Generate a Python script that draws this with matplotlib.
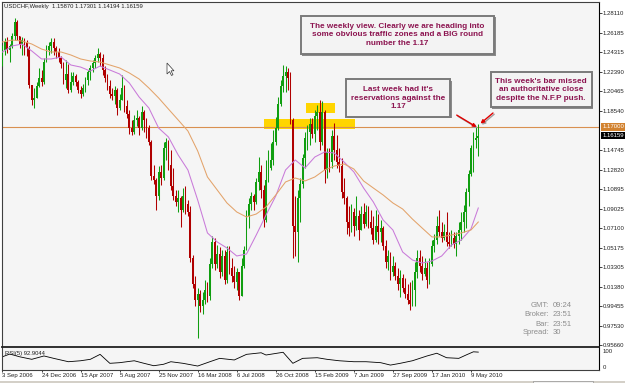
import matplotlib
matplotlib.use("Agg")
import matplotlib.pyplot as plt
from matplotlib import patches, transforms
import numpy as np

plt.rcParams['font.family'] = ['Liberation Sans', 'DejaVu Sans']

# ---------------- data (USDCHF weekly) ----------------
first_open = 1.2334
closes = [
    1.2452, 1.2530, 1.2452, 1.2491, 1.2588, 1.2725, 1.2588, 1.2510, 1.2549, 1.2530,
    1.2471, 1.2110, 1.1963, 1.1983, 1.2100, 1.2179, 1.2139, 1.2334, 1.2452, 1.2491,
    1.2530, 1.2471, 1.2432, 1.2373, 1.2315, 1.2159, 1.2217, 1.2061, 1.2139, 1.2198,
    1.2139, 1.2061, 1.2022, 1.2080, 1.2159, 1.2237, 1.2276, 1.2325, 1.2373, 1.2412,
    1.2373, 1.2256, 1.2179, 1.2100, 1.2022, 1.2002, 1.2061, 1.1885, 1.1963, 1.2080,
    1.1904, 1.1826, 1.1689, 1.1650, 1.1768, 1.1787, 1.1689, 1.1846, 1.1768, 1.1689,
    1.1553, 1.1221, 1.1181, 1.1025, 1.1260, 1.1201, 1.1494, 1.1553, 1.1328, 1.1123,
    1.1025, 1.0966, 1.1006, 1.0888, 1.1025, 1.0947, 1.0869, 1.0419, 1.0165, 1.0009,
    1.0068, 0.9950, 1.0009, 1.0107, 1.0048, 1.0361, 1.0576, 1.0361, 1.0458, 1.0283,
    1.0439, 1.0204, 1.0478, 1.0322, 1.0244, 1.0185, 1.0283, 1.0048, 1.0341, 1.0498,
    1.0830, 1.0947, 1.1025, 1.0966, 1.1162, 1.1260, 1.1084, 1.0791, 1.1181, 1.1299,
    1.1377, 1.1553, 1.1689, 1.1924, 1.2100, 1.2198, 1.2237, 1.2179, 1.1768, 1.0732,
    1.0673, 1.1006, 1.1142, 1.1396, 1.1592, 1.1650, 1.1729, 1.1631, 1.1807, 1.1846,
    1.1553, 1.1846, 1.1279, 1.1455, 1.1357, 1.1611, 1.1475, 1.1357, 1.1318, 1.1064,
    1.1006, 1.0771, 1.0712, 1.0869, 1.0732, 1.0830, 1.0693, 1.0849, 1.0752, 1.0869,
    1.0771, 1.0712, 1.0595, 1.0732, 1.0673, 1.0712, 1.0537, 1.0380, 1.0439, 1.0283,
    1.0341, 1.0244, 1.0165, 1.0224, 1.0126, 1.0068, 1.0009, 0.9970, 1.0107, 1.0283,
    1.0419, 1.0341, 1.0263, 1.0322, 1.0204, 1.0361, 1.0537, 1.0595, 1.0732, 1.0673,
    1.0615, 1.0673, 1.0576, 1.0556, 1.0615, 1.0556, 1.0634, 1.0693, 1.0771, 1.0869,
    1.1064, 1.1240, 1.1494, 1.1572, 1.1587, 1.16159]
highs = [
    1.2500, 1.2569, 1.2579, 1.2510, 1.2618, 1.2764, 1.2745, 1.2588, 1.2579, 1.2569,
    1.2549, 1.2490, 1.2110, 1.2080, 1.2139, 1.2276, 1.2256, 1.2373, 1.2500, 1.2530,
    1.2569, 1.2569, 1.2491, 1.2471, 1.2393, 1.2334, 1.2354, 1.2315, 1.2237, 1.2237,
    1.2217, 1.2159, 1.2100, 1.2119, 1.2188, 1.2256, 1.2305, 1.2354, 1.2403, 1.2471,
    1.2432, 1.2412, 1.2295, 1.2217, 1.2159, 1.2080, 1.2100, 1.2080, 1.2022, 1.2207,
    1.2110, 1.1963, 1.1865, 1.1768, 1.1816, 1.1865, 1.1807, 1.1904, 1.1865, 1.1787,
    1.1719, 1.1572, 1.1328, 1.1201, 1.1318, 1.1328, 1.1553, 1.1592, 1.1572, 1.1475,
    1.1299, 1.1084, 1.1084, 1.1025, 1.1103, 1.1123, 1.0986, 1.0927, 1.0449, 1.0244,
    1.0126, 1.0107, 1.0087, 1.0204, 1.0185, 1.0419, 1.0634, 1.0615, 1.0546, 1.0527,
    1.0498, 1.0498, 1.0537, 1.0537, 1.0419, 1.0341, 1.0322, 1.0283, 1.0419, 1.0537,
    1.0888, 1.1006, 1.1064, 1.1045, 1.1201, 1.1406, 1.1328, 1.1133, 1.1377, 1.1475,
    1.1543, 1.1670, 1.1797, 1.1992, 1.2159, 1.2305, 1.2295, 1.2276, 1.2237, 1.1787,
    1.1025, 1.1084, 1.1201, 1.1435, 1.1650, 1.1719, 1.1787, 1.1787, 1.1865, 1.1914,
    1.1963, 1.1953, 1.1865, 1.1494, 1.1494, 1.1670, 1.1738, 1.1621, 1.1494, 1.1396,
    1.1201, 1.1025, 1.0927, 1.0947, 1.0908, 1.1025, 1.0888, 1.0927, 1.0957, 1.0937,
    1.0927, 1.0888, 1.0830, 1.0888, 1.0849, 1.0791, 1.0732, 1.0595, 1.0498, 1.0478,
    1.0439, 1.0380, 1.0322, 1.0302, 1.0263, 1.0224, 1.0165, 1.0185, 1.0204, 1.0380,
    1.0498, 1.0498, 1.0439, 1.0419, 1.0380, 1.0419, 1.0595, 1.0654, 1.0830, 1.0888,
    1.0771, 1.0752, 1.0869, 1.0673, 1.0693, 1.0673, 1.0673, 1.0771, 1.0869, 1.0937,
    1.1103, 1.1279, 1.1523, 1.1650, 1.1699, 1.17301]
lows = [
    1.2295, 1.2403, 1.2422, 1.2334, 1.2471, 1.2549, 1.2549, 1.2471, 1.2403, 1.2403,
    1.2393, 1.2080, 1.1914, 1.1885, 1.1983, 1.2090, 1.2100, 1.2119, 1.2334, 1.2403,
    1.2422, 1.2403, 1.2373, 1.2334, 1.2276, 1.2119, 1.2080, 1.2031, 1.2041, 1.2110,
    1.2100, 1.2031, 1.1983, 1.2002, 1.2041, 1.2110, 1.2159, 1.2237, 1.2276, 1.2334,
    1.2295, 1.2207, 1.2139, 1.2061, 1.1983, 1.1963, 1.1924, 1.1816, 1.1865, 1.1963,
    1.1846, 1.1787, 1.1631, 1.1621, 1.1631, 1.1709, 1.1621, 1.1670, 1.1650, 1.1592,
    1.1523, 1.1181, 1.1142, 1.0888, 1.0986, 1.1133, 1.1181, 1.1377, 1.1279, 1.1084,
    1.0986, 1.0927, 1.0869, 1.0722, 1.0869, 1.0849, 1.0830, 1.0380, 1.0126, 0.9950,
    0.9638, 0.9892, 0.9872, 0.9970, 0.9990, 1.0009, 1.0322, 1.0302, 1.0322, 1.0224,
    1.0244, 1.0165, 1.0175, 1.0263, 1.0185, 1.0126, 1.0107, 1.0009, 1.0048, 1.0322,
    1.0498, 1.0712, 1.0888, 1.0888, 1.0947, 1.1084, 1.1006, 1.0722, 1.0771, 1.1162,
    1.1279, 1.1328, 1.1523, 1.1670, 1.1904, 1.2041, 1.2041, 1.2061, 1.1729, 1.0419,
    1.0439, 1.0380, 1.0771, 1.1103, 1.1299, 1.1475, 1.1523, 1.1592, 1.1553, 1.1670,
    1.1475, 1.1523, 1.1152, 1.1201, 1.1260, 1.1299, 1.1377, 1.1299, 1.1260, 1.1006,
    1.0947, 1.0654, 1.0634, 1.0673, 1.0634, 1.0693, 1.0595, 1.0693, 1.0712, 1.0732,
    1.0712, 1.0654, 1.0556, 1.0576, 1.0556, 1.0576, 1.0498, 1.0322, 1.0302, 1.0204,
    1.0244, 1.0204, 1.0107, 1.0038, 1.0087, 1.0029, 0.9970, 0.9911, 0.9950, 0.9950,
    1.0224, 1.0283, 1.0204, 1.0244, 1.0126, 1.0165, 1.0341, 1.0478, 1.0556, 1.0634,
    1.0576, 1.0595, 1.0537, 1.0517, 1.0537, 1.0517, 1.0439, 1.0556, 1.0595, 1.0673,
    1.0712, 1.0927, 1.1221, 1.1260, 1.1494, 1.14194]

# moving averages sampled every 4 weeks (+ last bar)
ma_weeks = list(range(0, 193, 4)) + [195]
ma_fast = [
    1.2432, 1.2491, 1.2510, 1.2442, 1.2364, 1.2364, 1.2383, 1.2305, 1.2285, 1.2246,
    1.2295, 1.2256, 1.2217, 1.2129, 1.1992, 1.1885, 1.1689, 1.1602, 1.1426, 1.1279,
    1.0986, 1.0664, 1.0576, 1.0517, 1.0439, 1.0458, 1.0644, 1.0839, 1.1025, 1.1279,
    1.1377, 1.1299, 1.1406, 1.1455, 1.1445, 1.1357, 1.1260, 1.1103, 1.0966, 1.0791,
    1.0693, 1.0478, 1.0400, 1.0370, 1.0390, 1.0439, 1.0546, 1.0595, 1.0703, 1.0908]
ma_slow = [
    1.2530, 1.2549, 1.2539, 1.2510, 1.2461, 1.2432, 1.2432, 1.2403, 1.2364, 1.2344,
    1.2334, 1.2305, 1.2276, 1.2227, 1.2168, 1.2080, 1.1983, 1.1875, 1.1768, 1.1660,
    1.1465, 1.1211, 1.1084, 1.0957, 1.0869, 1.0820, 1.0849, 1.0918, 1.1035, 1.1162,
    1.1201, 1.1172, 1.1211, 1.1279, 1.1318, 1.1338, 1.1289, 1.1172, 1.1103, 1.1035,
    1.0957, 1.0898, 1.0800, 1.0712, 1.0625, 1.0625, 1.0644, 1.0664, 1.0693, 1.0771]

rsi_weeks = [0, 3, 7, 12, 17, 21, 27, 32, 36, 40, 44, 48, 54, 58, 62, 66, 69, 74, 80, 85,
             89, 95, 100, 106, 108, 115, 119, 123, 129, 133, 138, 144, 149, 155, 159, 163,
             168, 174, 178, 182, 187, 190, 193, 195]
rsi_vals = [64, 81, 64, 48, 69, 54, 33, 39, 48, 79, 23, 27, 39, 23, 8, 17, 33, 23, 6, 33,
            54, 44, 79, 89, 75, 92, 23, 54, 58, 48, 39, 33, 33, 27, 12, 23,
            39, 69, 86, 58, 54, 75, 95, 93]

date_weeks = [0, 16, 32, 48, 64, 80, 96, 112, 128, 144, 160, 176, 192]
date_labels = ['3 Sep 2006', '24 Dec 2006', '15 Apr 2007', '5 Aug 2007', '25 Nov 2007',
               '16 Mar 2008', '6 Jul 2008', '26 Oct 2008', '15 Feb 2009', '7 Jun 2009',
               '27 Sep 2009', '17 Jan 2010', '9 May 2010']
price_ticks = [1.28110, 1.26185, 1.24315, 1.22390, 1.20465, 1.18540, 1.14745, 1.12820,
               1.10895, 1.09025, 1.07100, 1.05175, 1.03305, 1.01380, 0.99455, 0.97530, 0.95660]
price_labels = ['%.5f' % v for v in price_ticks]

level = 1.17000
last_close = 1.16159
zones = [((107.2, 144.5), (1.1680, 1.1777)), ((124.4, 136.3), (1.1836, 1.1934))]

# ---------------- figure ----------------
W, H = 625, 383
fig = plt.figure(figsize=(W / 100, H / 100), dpi=100)
fig.patch.set_facecolor('white')
PX = transforms.Affine2D().scale(1 / W, -1 / H).translate(0, 1) + fig.transFigure


def frac(x0, y0, x1, y1):
    return [x0 / W, 1 - y1 / H, (x1 - x0) / W, (y1 - y0) / H]


XMIN, XMAX = -0.2, 244.27
YMIN, YMAX = 0.95498, 1.29205
BG = '#F5F5F5'
GREEN, RED = '#109E10', '#B00000'

ax = fig.add_axes(frac(2, 2, 598.5, 347))
ax.set_facecolor(BG)
ax.set_xlim(XMIN, XMAX)
ax.set_ylim(YMIN, YMAX)

x = np.arange(len(closes))
c = np.array(closes)
o = np.concatenate([[first_open], c[:-1]])
hi = np.array(highs)
lo = np.array(lows)
up = c >= o
cols = np.where(up, GREEN, RED)

for (w0, w1), (p0, p1) in zones:
    ax.add_patch(patches.Rectangle((w0, p0), w1 - w0, p1 - p0, facecolor='#FFD500',
                                   edgecolor='none', zorder=1.5))
ax.axhline(level, color='#D99050', lw=0.8, zorder=2)

ax.vlines(x, lo, hi, colors=cols, linewidth=0.75, zorder=3)
ax.bar(x, np.maximum(np.abs(c - o), 0.0007), bottom=np.minimum(o, c), width=0.72,
       color=cols, linewidth=0, zorder=4)

ax.plot(ma_weeks, ma_fast, color='#C97AD9', lw=0.75, zorder=5)
ax.plot(ma_weeks, ma_slow, color='#E3A36A', lw=0.75, zorder=5)

ax.set_xticks([])
ax.yaxis.tick_right()
ax.set_yticks(price_ticks)
ax.set_yticklabels(price_labels)
ax.tick_params(axis='y', length=1.8, width=0.6, pad=1.0, labelsize=4.3, colors='#222222')
for s in ['left', 'top']:
    ax.spines[s].set_color('#404040')
    ax.spines[s].set_linewidth(0.8)
ax.spines['right'].set_color('black')
ax.spines['right'].set_linewidth(0.8)
ax.spines['bottom'].set_color('#202020')
ax.spines['bottom'].set_linewidth(1.3)

bt = transforms.blended_transform_factory(ax.transAxes, ax.transData)
ax.text(1.006, level, '1.17000', transform=bt, fontsize=4.3, color='white', va='center',
        ha='left', clip_on=False,
        bbox=dict(boxstyle='square,pad=0.22', fc='#D2822F', ec='none'))
ax.text(1.006, last_close, '%.5f' % last_close, transform=bt, fontsize=4.3, color='white',
        va='center', ha='left', clip_on=False,
        bbox=dict(boxstyle='square,pad=0.22', fc='black', ec='none'))

# arrows pointing at last bar
for dx, dy, hx, hy in [(-14.3, 8.6, 194.3, 1.1699), (9.0, 7.6, 195.9, 1.1733)]:
    ax.annotate('', xy=(hx + 0.5, hy - 0.0012), xytext=(dx, dy), textcoords='offset points',
                arrowprops=dict(arrowstyle='-|>', color='#A0A0A0', lw=1.0,
                                mutation_scale=5, shrinkA=0, shrinkB=0), zorder=6)
    ax.annotate('', xy=(hx, hy), xytext=(dx, dy), textcoords='offset points',
                arrowprops=dict(arrowstyle='-|>', color='#E00000', lw=1.0,
                                mutation_scale=5, shrinkA=0, shrinkB=0), zorder=7)

# ---------------- RSI panel ----------------
rax = fig.add_axes(frac(2, 348, 598.5, 370))
rax.set_facecolor(BG)
rax.set_xlim(XMIN, XMAX)
rax.set_ylim(-18.75, 118.75)
rax.plot(rsi_weeks, rsi_vals, color='black', lw=0.6)
rax.yaxis.tick_right()
rax.set_yticks([100, 0])
rax.set_yticklabels(['100', '0'])
rax.tick_params(axis='y', length=0, pad=3.0, labelsize=4.3, colors='#222222')
rax.set_xticks(date_weeks)
rax.set_xticklabels(date_labels)
for lbl in rax.get_xticklabels():
    lbl.set_ha('left')
rax.tick_params(axis='x', length=1.6, width=0.6, pad=0.3, labelsize=4.3, colors='#222222')
for s in ['left', 'bottom']:
    rax.spines[s].set_color('#404040')
    rax.spines[s].set_linewidth(0.8)
rax.spines['right'].set_color('black')
rax.spines['right'].set_linewidth(0.8)
rax.spines['top'].set_visible(False)

# ---------------- texts ----------------
fig.text(4, 6.3, 'USDCHF,Weekly  1.15870 1.17301 1.14194 1.16159', transform=PX,
         fontsize=4.2, color='#202020', va='center', ha='left')
fig.text(5, 353.5, 'RSI(5) 92.9044', transform=PX, fontsize=4.2, color='#202020',
         va='center', ha='left')

TXT = '#8C1450'


def note(x0, y0, x1, y1, text):
    fig.add_artist(patches.Rectangle((x0 + 1.5, y0 + 1.5), x1 - x0, y1 - y0, transform=PX,
                                     facecolor='#8A8A8A', edgecolor='none', zorder=8))
    fig.add_artist(patches.Rectangle((x0, y0), x1 - x0, y1 - y0, transform=PX,
                                     facecolor='#F3F3F3', edgecolor='#7A7A7A', lw=1.4,
                                     zorder=9))
    fig.text((x0 + x1) / 2, (y0 + y1) / 2, text, transform=PX, fontsize=5.9,
             fontweight='bold', color=TXT, ha='center', va='center', linespacing=1.25,
             zorder=10)


note(300.7, 15.7, 494, 54.3,
     'The weekly view. Clearly we are heading into\nsome obvious traffic zones and a BIG round\nnumber the 1.17')
note(346, 79.3, 450, 116.7, "Last week had it's\nreservations against the\n1.17")
note(490.7, 72.3, 591.7, 107.3,
     "This week's bar missed\nan authoritative close\ndespite the N.F.P push.")

GREY = '#8C8C8C'
for yy, lab, val in [(305.5, 'GMT:', '09:24'), (315, 'Broker:', '23:51'),
                     (324, 'Bar:', '23:51'), (333, 'Spread:', '30')]:
    fig.text(549, yy, lab, transform=PX, fontsize=5.5, color=GREY, ha='right', va='center')
    fig.text(553, yy, val, transform=PX, fontsize=5.5, color=GREY, ha='left', va='center')

# mouse cursor
cur = [(167, 63), (167, 74), (169.5, 71.5), (171.5, 75.5), (173, 74.7), (171, 70.8), (174, 70.8)]
fig.add_artist(patches.Polygon(cur, closed=True, transform=PX, facecolor='white',
                               edgecolor='#333333', lw=0.5, zorder=10))

# bottom tab strip
fig.add_artist(patches.Rectangle((0, 380.5), W, 3, transform=PX, facecolor='#D4D0C8',
                                 edgecolor='none'))
fig.add_artist(patches.Rectangle((533, 380.5), 60, 3, transform=PX, facecolor='#F0F0F0',
                                 edgecolor='#808080', lw=0.4))

fig.savefig('out.png', dpi=100, facecolor=fig.get_facecolor())
